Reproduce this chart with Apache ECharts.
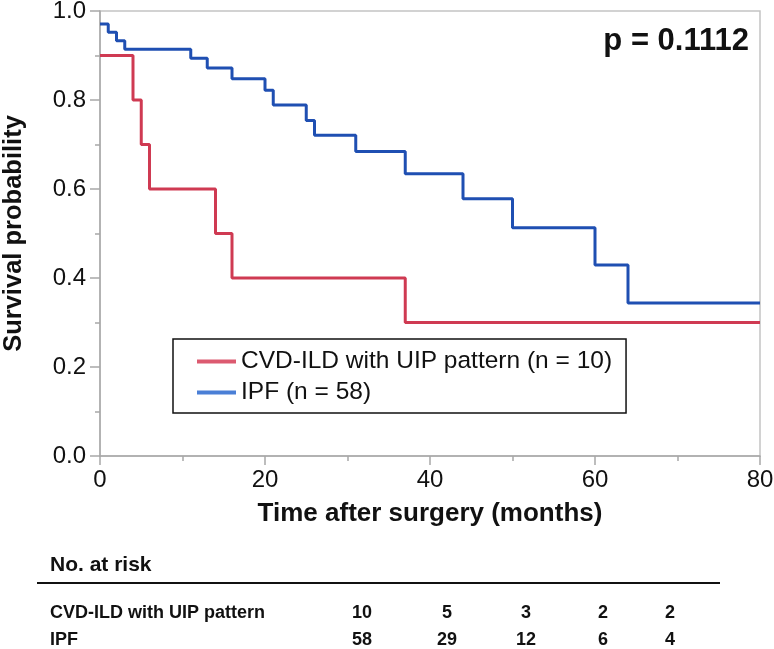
<!DOCTYPE html>
<html>
<head>
<meta charset="utf-8">
<script src="https://cdn.jsdelivr.net/npm/echarts@6/dist/echarts.min.js"></script>
<style>
html,body{margin:0;padding:0;background:#fff;}
#chart{width:774px;height:649px;}
</style>
</head>
<body>
<div id="chart"></div>
<script>
// Kaplan-Meier step data (months, survival probability)
var cvdTimes = [0, 4, 5, 6, 14, 16, 37, 80];
var cvdSurv  = [0.9, 0.8, 0.7, 0.6, 0.5, 0.4, 0.3, 0.3];
var ipfTimes = [0, 1, 2, 3, 11, 13, 16, 20, 21, 25, 26, 31, 37, 44, 50, 60, 64, 80];
var ipfSurv  = [0.971, 0.952, 0.933, 0.914, 0.894, 0.872, 0.848, 0.822, 0.789, 0.754, 0.721, 0.684, 0.634, 0.578, 0.513, 0.429, 0.344, 0.344];
var seriesNames = ['CVD-ILD with UIP pattern (n = 10)', 'IPF (n = 58)'];
var xTicks = [0, 20, 40, 60, 80];
var yTicks = [0.0, 0.2, 0.4, 0.6, 0.8, 1.0];
var riskGroups = ['CVD-ILD with UIP pattern', 'IPF'];
var riskCVD = [10, 5, 3, 2, 2];
var riskIPF = [58, 29, 12, 6, 4];
var pText = 'p = 0.1112';

function zip(a, b) { return a.map(function (v, i) { return [v, b[i]]; }); }

var FONT = '"Liberation Sans", Arial, Helvetica, sans-serif';
var RED = '#cf3a52', BLUE = '#1f4fb2';
var RED_L = '#dc5a70', BLUE_L = '#4a7fd6';

var chart = echarts.init(document.getElementById('chart'));

var riskCols = [362, 447, 526, 603, 670];
var riskRows = [613, 640];
var graphics = [];
graphics.push({type: 'text', x: 50, y: 565, style: {text: 'No. at risk', font: 'bold 21px ' + FONT, fill: '#111', verticalAlign: 'middle', textVerticalAlign: 'middle'}});
graphics.push({type: 'line', shape: {x1: 37, y1: 583, x2: 720, y2: 583}, style: {stroke: '#111', lineWidth: 2}});
[riskCVD, riskIPF].forEach(function (row, r) {
  graphics.push({type: 'text', x: 50, y: riskRows[r], style: {text: riskGroups[r], font: 'bold 18px ' + FONT, fill: '#111', textVerticalAlign: 'middle', verticalAlign: 'middle'}});
  row.forEach(function (v, c) {
    graphics.push({type: 'text', x: riskCols[c], y: riskRows[r], style: {text: String(v), font: 'bold 18px ' + FONT, fill: '#111', textAlign: 'center', align: 'center', textVerticalAlign: 'middle', verticalAlign: 'middle'}});
  });
});

var option = {
  animation: false,
  backgroundColor: '#fff',
  title: {
    text: pText, right: 20, top: 21,
    textStyle: {fontFamily: FONT, fontSize: 31, fontWeight: 'bold', color: '#111', lineHeight: 31}
  },
  grid: {left: 100, right: 14, top: 11, bottom: 193, show: true, borderColor: '#c4c4c4', borderWidth: 1.5,
    containLabel: false, outerBoundsMode: 'none'},
  legend: {
    orient: 'vertical', left: 173, top: 339,
    padding: [10, 14, 8, 24], itemGap: 6,
    borderColor: '#111', borderWidth: 1.5, backgroundColor: '#fff',
    icon: 'rect', itemWidth: 39, itemHeight: 4,
    textStyle: {fontFamily: FONT, fontSize: 24.5, color: '#111', lineHeight: 25},
    data: [
      {name: seriesNames[0], itemStyle: {color: RED_L}},
      {name: seriesNames[1], itemStyle: {color: BLUE_L}}
    ]
  },
  xAxis: {
    type: 'value', min: 0, max: 80, interval: 20,
    name: 'Time after surgery (months)', nameLocation: 'middle', nameGap: 45,
    nameTextStyle: {fontFamily: FONT, fontSize: 26, fontWeight: 'bold', color: '#111'},
    axisLine: {show: true, lineStyle: {color: '#a8a8a8', width: 1.5}},
    axisTick: {show: true, length: 9, lineStyle: {color: '#a8a8a8', width: 1.5}},
    minorTick: {show: true, splitNumber: 2, length: 5, lineStyle: {color: '#a8a8a8', width: 1.5}},
    splitLine: {show: false},
    axisLabel: {fontFamily: FONT, fontSize: 24, color: '#111', margin: 12,
      formatter: function (v) { return xTicks.indexOf(v) >= 0 ? String(v) : ''; }}
  },
  yAxis: {
    type: 'value', min: 0, max: 1, interval: 0.2,
    name: 'Survival probability', nameLocation: 'middle', nameGap: 73,
    nameTextStyle: {fontFamily: FONT, fontSize: 25.5, fontWeight: 'bold', color: '#111'},
    axisLine: {show: true, lineStyle: {color: '#a8a8a8', width: 1.5}},
    axisTick: {show: true, length: 10, lineStyle: {color: '#a8a8a8', width: 1.5}},
    minorTick: {show: true, splitNumber: 2, length: 5, lineStyle: {color: '#a8a8a8', width: 1.5}},
    splitLine: {show: false},
    axisLabel: {fontFamily: FONT, fontSize: 24, color: '#111', margin: 14,
      formatter: function (v) { return v.toFixed(1); }}
  },
  series: [
    {name: seriesNames[0], type: 'line', step: 'end', showSymbol: false, symbol: 'none',
      data: zip(cvdTimes, cvdSurv), lineStyle: {color: RED, width: 3}, itemStyle: {color: RED}, z: 3},
    {name: seriesNames[1], type: 'line', step: 'end', showSymbol: false, symbol: 'none',
      data: zip(ipfTimes, ipfSurv), lineStyle: {color: BLUE, width: 3}, itemStyle: {color: BLUE}, z: 4}
  ],
  graphic: graphics
};
chart.setOption(option);
</script>
</body>
</html>
